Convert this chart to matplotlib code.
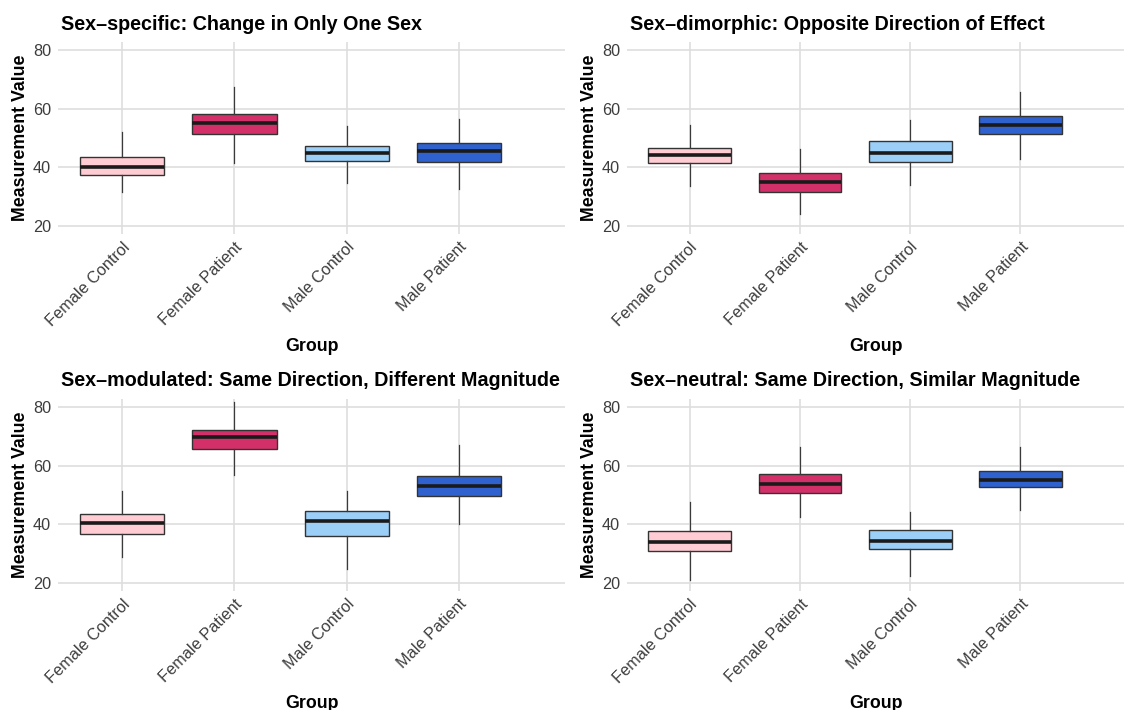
import matplotlib
matplotlib.use("Agg")
import matplotlib.pyplot as plt
from matplotlib.transforms import ScaledTranslation

plt.rcParams['font.family'] = ['Liberation Sans', 'DejaVu Sans']

groups = ["Female Control", "Female Patient", "Male Control", "Male Patient"]
colors = ["#FFCCD3", "#D3306A", "#9BCFF8", "#2F62CF"]

titles = [
    "Sex–specific: Change in Only One Sex",
    "Sex–dimorphic: Opposite Direction of Effect",
    "Sex–modulated: Same Direction, Different Magnitude",
    "Sex–neutral: Same Direction, Similar Magnitude",
]

# per panel, per group: whisker low, q1, median, q3, whisker high
specific_low = [31.7, 41.6, 34.8, 32.7]
specific_q1 = [37.3, 51.5, 42.2, 41.8]
specific_med = [40.0, 55.1, 44.8, 45.5]
specific_q3 = [43.4, 58.2, 47.4, 48.3]
specific_high = [52.2, 67.3, 54.2, 56.6]

dimorphic_low = [33.6, 24.1, 34.0, 42.7]
dimorphic_q1 = [41.4, 31.5, 41.9, 51.5]
dimorphic_med = [44.2, 35.1, 44.8, 54.5]
dimorphic_q3 = [46.6, 38.1, 48.9, 57.6]
dimorphic_high = [54.4, 46.1, 56.0, 65.6]

modulated_low = [28.9, 56.7, 24.9, 40.2]
modulated_q1 = [36.7, 65.8, 36.1, 49.5]
modulated_med = [40.6, 69.8, 41.3, 53.1]
modulated_q3 = [43.5, 72.3, 44.7, 56.6]
modulated_high = [51.2, 81.7, 51.2, 66.9]

neutral_low = [20.9, 42.5, 22.4, 44.9]
neutral_q1 = [30.9, 50.7, 31.5, 52.7]
neutral_med = [33.9, 53.8, 34.5, 55.2]
neutral_q3 = [37.6, 57.2, 38.0, 58.3]
neutral_high = [47.6, 66.3, 44.1, 66.3]

panels = [
    (specific_low, specific_q1, specific_med, specific_q3, specific_high),
    (dimorphic_low, dimorphic_q1, dimorphic_med, dimorphic_q3, dimorphic_high),
    (modulated_low, modulated_q1, modulated_med, modulated_q3, modulated_high),
    (neutral_low, neutral_q1, neutral_med, neutral_q3, neutral_high),
]

W, H = 1124, 710
fig = plt.figure(figsize=(W / 100, H / 100), dpi=100)
fig.patch.set_facecolor("white")

# axes rectangles in pixels: left, top, right, bottom
rects = [
    (58, 42, 565, 234),
    (627, 42, 1124, 234),
    (58, 399, 565, 591),
    (627, 399, 1124, 591),
]

for i, (rect, title, data) in enumerate(zip(rects, titles, panels)):
    l, t, r, b = rect
    ax = fig.add_axes([l / W, 1 - b / H, (r - l) / W, (b - t) / H])
    low, q1, med, q3, high = data
    stats = []
    for j in range(len(groups)):
        stats.append(dict(whislo=low[j], q1=q1[j], med=med[j], q3=q3[j],
                          whishi=high[j], fliers=[], label=groups[j]))
    positions = list(range(1, len(groups) + 1))
    bp = ax.bxp(stats, positions=positions, widths=0.75, patch_artist=True,
                showcaps=False, showfliers=False,
                boxprops=dict(edgecolor="#333333", linewidth=1.0),
                whiskerprops=dict(color="#3a3a3a", linewidth=0.9),
                medianprops=dict(color="#1a1a1a", linewidth=2.6,
                                 solid_capstyle="butt"),
                zorder=3)
    for patch, c in zip(bp["boxes"], colors):
        patch.set_facecolor(c)
    ax.set_xlim(0.43, 4.94 if r < 1000 else 0.43 + (r - l) / 110.2)
    ax.set_ylim(17.3, 82.7)
    ax.set_yticks([20, 40, 60, 80])
    ax.set_xticks(positions)
    ax.set_xticklabels(groups, rotation=45, ha="right", va="top",
                       rotation_mode="anchor")
    off = ScaledTranslation(7 / 100, -2 / 100, fig.dpi_scale_trans)
    for lab in ax.get_xticklabels():
        lab.set_transform(lab.get_transform() + off)
    ax.grid(True, color="#DEDEDE", linewidth=1.2, zorder=0)
    ax.set_axisbelow(True)
    for s in ax.spines.values():
        s.set_visible(False)
    ax.tick_params(axis="both", length=0, labelsize=11.7, labelcolor="#3d3d3d")
    ax.tick_params(axis="y", pad=5)
    ax.tick_params(axis="x", pad=4)
    ax.set_ylabel("Measurement Value", fontsize=12.8, fontweight="bold",
                  labelpad=3)
    ax.set_xlabel("Group", fontsize=12.8, fontweight="bold", labelpad=6.5)
    ax.set_title(title, loc="left", fontsize=14.2, fontweight="bold", pad=9,
                 x=0.006)

fig.savefig("out.png", dpi=100, facecolor="white")
